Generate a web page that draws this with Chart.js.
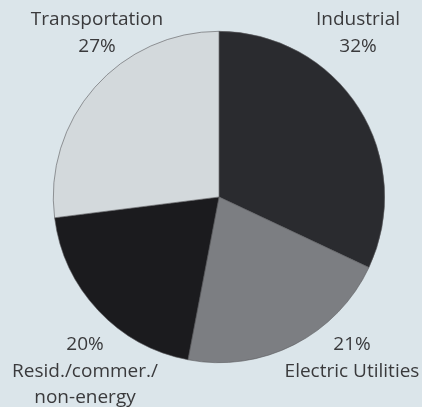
<!DOCTYPE html>
<html>
<head>
<meta charset="utf-8">
<script src="https://cdn.jsdelivr.net/npm/chart.js@4/dist/chart.umd.min.js"></script>
<style>
  html, body { margin: 0; padding: 0; background: #dbe5ea; }
  #wrap { position: relative; width: 422px; height: 407px; }
</style>
</head>
<body>
<div id="wrap"><canvas id="pie"></canvas></div>
<script>
const categories = ['Industrial', 'Electric Utilities', 'Resid./commer./non-energy', 'Transportation'];
const shares = [32, 21, 20, 27];
const sliceColors = ['#2a2b2f', '#7c7e82', '#1b1b1e', '#d3d9dc'];

// label text per slice: [lines], and where it sits
const labelLines = [
  ['Industrial', '32%'],
  ['21%', 'Electric Utilities'],
  ['20%', 'Resid./commer./', 'non-energy'],
  ['Transportation', '27%']
];
const labelPos = [[358, 20], [352, 345], [85, 345], [97, 20]];

const labelPlugin = {
  id: 'sliceLabels',
  afterDraw(chart) {
    const ctx = chart.ctx;
    ctx.save();
    ctx.font = '19px "Open Sans", sans-serif';
    ctx.fillStyle = '#3a3a3c';
    ctx.textAlign = 'center';
    ctx.textBaseline = 'middle';
    labelLines.forEach((lines, i) => {
      const [x, y] = labelPos[i];
      lines.forEach((t, j) => ctx.fillText(t, x, y + j * 26.5));
    });
    ctx.restore();
  }
};

new Chart(document.getElementById('pie'), {
  type: 'pie',
  data: {
    labels: categories,
    datasets: [{
      data: shares,
      backgroundColor: sliceColors,
      borderColor: '#5a5b5e',
      borderWidth: 0.6
    }]
  },
  options: {
    responsive: true,
    maintainAspectRatio: false,
    animation: false,
    layout: { padding: { left: 53, right: 37, top: 31, bottom: 44 } },
    plugins: {
      legend: { display: false },
      tooltip: { enabled: false }
    }
  },
  plugins: [labelPlugin]
});
</script>
</body>
</html>
